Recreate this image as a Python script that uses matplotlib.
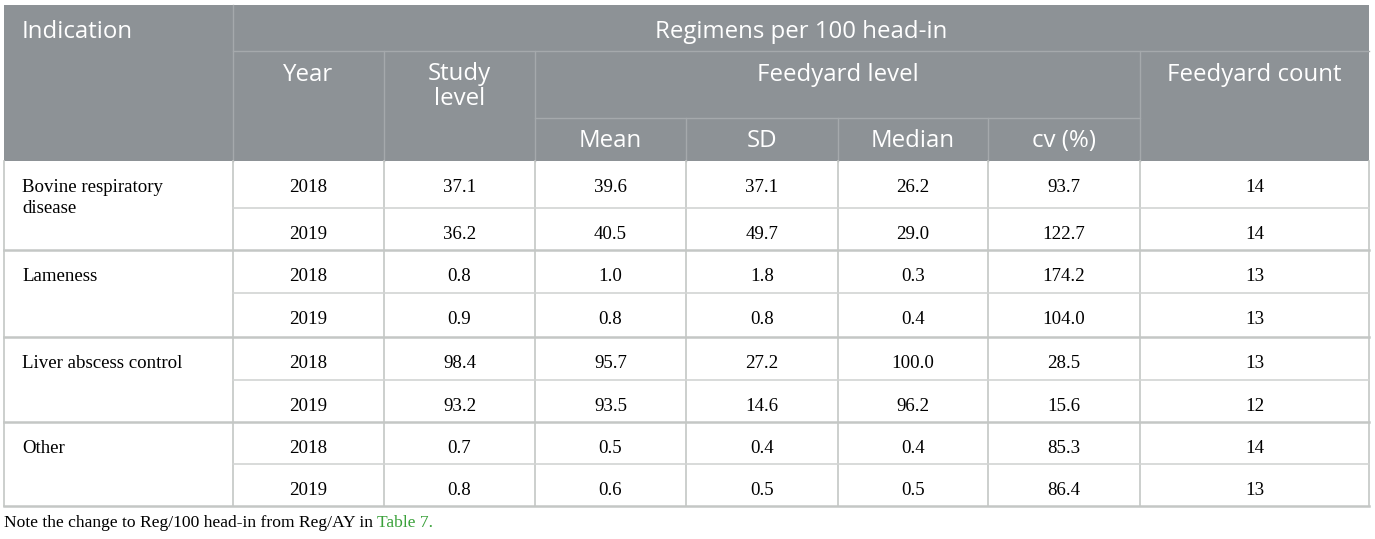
import matplotlib.pyplot as plt
from matplotlib.patches import Rectangle

# table data
indications = ["Bovine respiratory\ndisease", "Lameness", "Liver abscess control", "Other"]
years = ["2018", "2019"]
study_level = [["37.1", "36.2"], ["0.8", "0.9"], ["98.4", "93.2"], ["0.7", "0.8"]]
fy_mean = [["39.6", "40.5"], ["1.0", "0.8"], ["95.7", "93.5"], ["0.5", "0.6"]]
fy_sd = [["37.1", "49.7"], ["1.8", "0.8"], ["27.2", "14.6"], ["0.4", "0.5"]]
fy_median = [["26.2", "29.0"], ["0.3", "0.4"], ["100.0", "96.2"], ["0.4", "0.5"]]
fy_cv = [["93.7", "122.7"], ["174.2", "104.0"], ["28.5", "15.6"], ["85.3", "86.4"]]
fy_count = [["14", "14"], ["13", "13"], ["13", "12"], ["14", "13"]]
sub_headers = ["Mean", "SD", "Median", "cv (%)"]
note = "Note the change to Reg/100 head-in from Reg/AY in "
note_link = "Table 7."

W, H = 1375, 539
fig = plt.figure(figsize=(W / 100, H / 100), dpi=100)
ax = fig.add_axes([0, 0, 1, 1])
ax.set_xlim(0, W)
ax.set_ylim(H, 0)
ax.axis("off")

cols = [4, 233, 384, 535, 686, 838, 988, 1140, 1369]
h_top, h_r1, h_r2, h_bot = 5, 51, 118, 161
groups = [161, 250, 337, 422, 506]
subs = [208, 293, 380, 464]

hdr_col = "#8d9296"
hdr_line = "#a5a9ac"
grid = "#c4c7c5"
sans = "Open Sans"
serif = "Liberation Serif"
hfs = 17.3
dfs = 13.6

ax.add_patch(Rectangle((cols[0], h_top), cols[-1] - cols[0], h_bot - h_top,
                       color=hdr_col, lw=0))

# header lines
ax.plot([cols[1], cols[1]], [h_top, h_bot], color=hdr_line, lw=1)
for x in [cols[2], cols[3], cols[7]]:
    ax.plot([x, x], [h_r1, h_bot], color=hdr_line, lw=1)
for x in cols[4:7]:
    ax.plot([x, x], [h_r2, h_bot], color=hdr_line, lw=1)
ax.plot([cols[1], cols[-1]], [h_r1, h_r1], color=hdr_line, lw=1)
ax.plot([cols[3], cols[7]], [h_r2, h_r2], color=hdr_line, lw=1)


def htext(x, y, s, ha="center"):
    ax.text(x, y, s, color="white", fontsize=hfs, family=sans, va="baseline", ha=ha)


# header text
htext(22, 38, "Indication", ha="left")
htext((cols[1] + cols[-1]) / 2, 38, "Regimens per 100 head-in")
htext((cols[1] + cols[2]) / 2, 81, "Year")
htext((cols[2] + cols[3]) / 2, 80, "Study")
htext((cols[2] + cols[3]) / 2, 105, "level")
htext((cols[3] + cols[7]) / 2, 81, "Feedyard level")
htext((cols[7] + cols[8]) / 2, 81, "Feedyard count")
for i, s in enumerate(sub_headers):
    htext((cols[3 + i] + cols[4 + i]) / 2, 147, s)

# body grid
for x in cols:
    ax.plot([x, x], [h_bot, groups[-1]], color=grid, lw=1.2)
for y in groups[1:]:
    ax.plot([cols[0], cols[-1]], [y, y], color=grid, lw=1.8)
for y in subs:
    ax.plot([cols[1], cols[-1]], [y, y], color="#d2d4d3", lw=1.2)

# body text
columns = [study_level, fy_mean, fy_sd, fy_median, fy_cv, fy_count]
for g, name in enumerate(indications):
    tops = [groups[g], subs[g]]
    for k, line in enumerate(name.split("\n")):
        ax.text(22, tops[0] + 31 + k * 21, line, fontsize=dfs, family=serif,
                va="baseline")
    for r in range(2):
        yb = tops[r] + 31
        ax.text((cols[1] + cols[2]) / 2, yb, years[r], fontsize=dfs,
                family=serif, va="baseline", ha="center")
        for c, vals in enumerate(columns):
            ax.text((cols[2 + c] + cols[3 + c]) / 2, yb, vals[g][r],
                    fontsize=dfs, family=serif, va="baseline", ha="center")

t = ax.text(4, 527, note, fontsize=12.6, family=serif, va="baseline")
fig.canvas.draw()
bb = t.get_window_extent()
x_link = ax.transData.inverted().transform((bb.x1, 0))[0]
ax.text(x_link, 527, note_link, fontsize=12.6, family=serif, va="baseline",
        color="#3aa13a")

fig.savefig("out.png", dpi=100)
